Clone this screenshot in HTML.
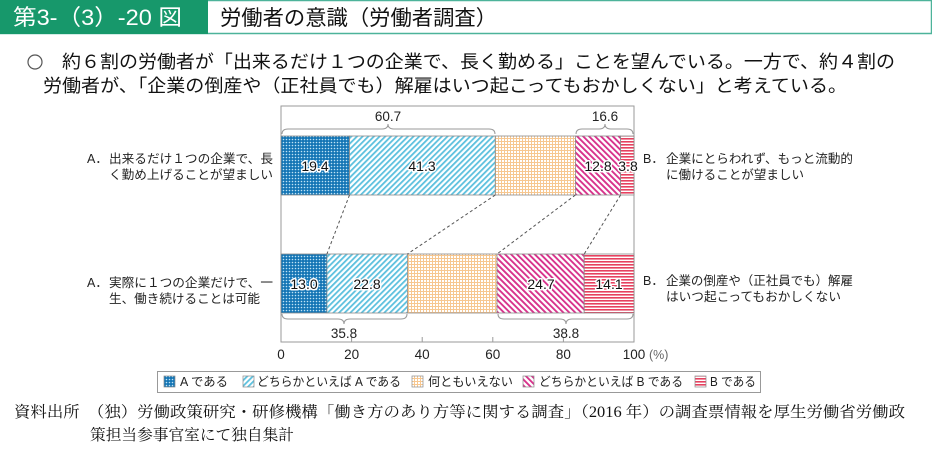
<!DOCTYPE html>
<html><head><meta charset="utf-8">
<style>
html,body{margin:0;padding:0;background:#fff;}
svg{display:block;}
.s{font-family:"Liberation Sans","Noto Sans CJK JP",sans-serif;}
.f{font-family:"Liberation Serif","Noto Serif CJK SC",serif;}
</style></head>
<body>
<svg width="932" height="460" viewBox="0 0 932 460" xmlns="http://www.w3.org/2000/svg">
<defs>
  <pattern id="pA" width="3" height="3" patternUnits="userSpaceOnUse">
    <rect width="3" height="3" fill="#1475b5"/>
    <circle cx="1.5" cy="1.5" r="0.8" fill="#bfe3f5"/>
  </pattern>
  <pattern id="pB" width="4" height="4" patternUnits="userSpaceOnUse" patternTransform="rotate(45)">
    <rect width="4" height="4" fill="#fff"/>
    <rect width="1.8" height="4" fill="#5cc0de"/>
  </pattern>
  <pattern id="pC" width="3" height="3" patternUnits="userSpaceOnUse">
    <rect width="3" height="3" fill="#fff"/>
    <rect width="3" height="1" fill="#f7c790"/>
    <rect width="1" height="3" fill="#f7c790"/>
  </pattern>
  <pattern id="pD" width="4.2" height="4.2" patternUnits="userSpaceOnUse" patternTransform="rotate(-45)">
    <rect width="4.2" height="4.2" fill="#fff"/>
    <rect width="1.9" height="4.2" fill="#d8338c"/>
  </pattern>
  <pattern id="pE" width="3" height="3" patternUnits="userSpaceOnUse">
    <rect width="3" height="3" fill="#fff"/>
    <rect width="3" height="1.6" fill="#e6415f"/>
  </pattern>
</defs>

<!-- header -->
<rect x="0.5" y="0.5" width="931" height="33" fill="#fff" stroke="#4db39a" stroke-width="1.5"/>
<rect x="0" y="0" width="208" height="34" fill="#17986b"/>
<text class="s" x="13" y="25" font-size="22" fill="#fff" textLength="169" lengthAdjust="spacingAndGlyphs">第3-（3）-20 図</text>
<text class="s" x="220" y="25" font-size="21" fill="#111" textLength="277" lengthAdjust="spacingAndGlyphs">労働者の意識（労働者調査）</text>

<!-- intro -->
<circle cx="35" cy="62" r="7" fill="none" stroke="#555" stroke-width="1.2"/>
<text class="s" x="62" y="68" font-size="18" fill="#111" textLength="833" lengthAdjust="spacingAndGlyphs">約６割の労働者が「出来るだけ１つの企業で、長く勤める」ことを望んでいる。一方で、約４割の</text>
<text class="s" x="43" y="92" font-size="18" fill="#111" textLength="804" lengthAdjust="spacingAndGlyphs">労働者が、「企業の倒産や（正社員でも）解雇はいつ起こってもおかしくない」と考えている。</text>

<!-- frame -->
<rect x="281" y="106" width="353" height="236" fill="none" stroke="#9a9a9a" stroke-width="1"/>
<g stroke="#9a9a9a" stroke-width="1">
  <line x1="351.6" y1="337" x2="351.6" y2="342"/>
  <line x1="422.2" y1="337" x2="422.2" y2="342"/>
  <line x1="492.8" y1="337" x2="492.8" y2="342"/>
  <line x1="563.4" y1="337" x2="563.4" y2="342"/>
</g>

<!-- bar 1 -->
<g stroke="#8a8a8a" stroke-width="0.8">
  <rect x="281" y="136" width="68.5" height="59" fill="url(#pA)"/>
  <rect x="349.5" y="136" width="145.8" height="59" fill="url(#pB)"/>
  <rect x="495.3" y="136" width="80.1" height="59" fill="url(#pC)"/>
  <rect x="575.4" y="136" width="45.2" height="59" fill="url(#pD)"/>
  <rect x="620.6" y="136" width="13.4" height="59" fill="url(#pE)"/>
</g>
<!-- bar 2 -->
<g stroke="#8a8a8a" stroke-width="0.8">
  <rect x="281" y="254" width="45.9" height="59" fill="url(#pA)"/>
  <rect x="326.9" y="254" width="80.5" height="59" fill="url(#pB)"/>
  <rect x="407.4" y="254" width="89.6" height="59" fill="url(#pC)"/>
  <rect x="497" y="254" width="87.2" height="59" fill="url(#pD)"/>
  <rect x="584.2" y="254" width="49.8" height="59" fill="url(#pE)"/>
</g>

<!-- dashed connectors -->
<g stroke="#555" stroke-width="1" stroke-dasharray="3,2.5">
  <line x1="349.5" y1="195" x2="326.9" y2="254"/>
  <line x1="495.3" y1="195" x2="407.4" y2="254"/>
  <line x1="575.4" y1="195" x2="497" y2="254"/>
  <line x1="620.6" y1="195" x2="584.2" y2="254"/>
</g>

<!-- braces -->
<g fill="none" stroke="#999" stroke-width="1">
  <path d="M282,134 Q282,129 288,129 L382,129 Q388,129 388,124 Q388,129 394,129 L489,129 Q495,129 495,134"/>
  <path d="M576,134 Q576,129 582,129 L599,129 Q605,129 605,124 Q605,129 611,129 L627,129 Q633,129 633,134"/>
  <path d="M282,314 Q282,319 288,319 L338,319 Q344,319 344,324 Q344,319 350,319 L401,319 Q407,319 407,314"/>
  <path d="M498,314 Q498,319 504,319 L560,319 Q566,319 566,324 Q566,319 572,319 L627,319 Q633,319 633,314"/>
</g>
<g class="s" font-size="13.5" fill="#222" text-anchor="middle">
  <text x="388" y="121">60.7</text>
  <text x="605" y="121">16.6</text>
  <text x="344" y="338">35.8</text>
  <text x="566" y="338">38.8</text>
</g>

<!-- values -->
<g class="s" font-size="14" fill="#111" text-anchor="middle" stroke="#fff" stroke-width="3" paint-order="stroke" stroke-linejoin="round">
  <text x="315" y="171">19.4</text>
  <text x="422" y="171">41.3</text>
  <text x="598" y="171">12.8</text>
  <text x="628" y="171">3.8</text>
  <text x="304" y="289">13.0</text>
  <text x="367" y="289">22.8</text>
  <text x="541" y="289">24.7</text>
  <text x="609" y="289">14.1</text>
</g>

<!-- axis labels -->
<g class="s" font-size="13.5" fill="#222" text-anchor="middle">
  <text x="281" y="359">0</text>
  <text x="351.6" y="359">20</text>
  <text x="422.2" y="359">40</text>
  <text x="492.8" y="359">60</text>
  <text x="563.4" y="359">80</text>
  <text x="634" y="359">100</text>
</g>
<text class="s" x="649" y="359" font-size="12.5" fill="#666">(%)</text>

<!-- side labels -->
<g class="s" font-size="12.5" fill="#222">
  <text x="87" y="163">A．</text>
  <text x="109" y="163" textLength="164" lengthAdjust="spacingAndGlyphs">出来るだけ１つの企業で、長</text>
  <text x="109" y="179" textLength="164" lengthAdjust="spacingAndGlyphs">く勤め上げることが望ましい</text>
  <text x="87" y="287">A．</text>
  <text x="109" y="287" textLength="164" lengthAdjust="spacingAndGlyphs">実際に１つの企業だけで、一</text>
  <text x="109" y="303" textLength="151" lengthAdjust="spacingAndGlyphs">生、働き続けることは可能</text>

  <text x="643" y="163">B．</text>
  <text x="666" y="163" textLength="187" lengthAdjust="spacingAndGlyphs">企業にとらわれず、もっと流動的</text>
  <text x="666" y="179" textLength="138" lengthAdjust="spacingAndGlyphs">に働けることが望ましい</text>
  <text x="643" y="285">B．</text>
  <text x="666" y="285" textLength="187" lengthAdjust="spacingAndGlyphs">企業の倒産や（正社員でも）解雇</text>
  <text x="666" y="301" textLength="175" lengthAdjust="spacingAndGlyphs">はいつ起こってもおかしくない</text>
</g>

<!-- legend -->
<rect x="157.5" y="371.5" width="603" height="21" fill="#fff" stroke="#999" stroke-width="1"/>
<g stroke="#8a8a8a" stroke-width="0.7">
  <rect x="164" y="376" width="11" height="11" fill="url(#pA)"/>
  <rect x="243" y="376" width="11" height="11" fill="url(#pB)"/>
  <rect x="412" y="376" width="11" height="11" fill="url(#pC)"/>
  <rect x="523" y="376" width="11" height="11" fill="url(#pD)"/>
  <rect x="695" y="376" width="11" height="11" fill="url(#pE)"/>
</g>
<g class="s" font-size="12.5" fill="#222">
  <text x="180" y="386" textLength="48" lengthAdjust="spacingAndGlyphs">A である</text>
  <text x="257" y="386" textLength="144" lengthAdjust="spacingAndGlyphs">どちらかといえば A である</text>
  <text x="428" y="386" textLength="85" lengthAdjust="spacingAndGlyphs">何ともいえない</text>
  <text x="539" y="386" textLength="144" lengthAdjust="spacingAndGlyphs">どちらかといえば B である</text>
  <text x="710" y="386" textLength="46" lengthAdjust="spacingAndGlyphs">B である</text>
</g>

<!-- footer -->
<g class="f" font-size="15.5" fill="#111">
  <text x="14" y="417" textLength="891" lengthAdjust="spacingAndGlyphs">資料出所　（独）労働政策研究・研修機構「働き方のあり方等に関する調査」（2016 年）の調査票情報を厚生労働省労働政</text>
  <text x="90" y="440" textLength="204" lengthAdjust="spacingAndGlyphs">策担当参事官室にて独自集計</text>
</g>
</svg>
</body></html>
